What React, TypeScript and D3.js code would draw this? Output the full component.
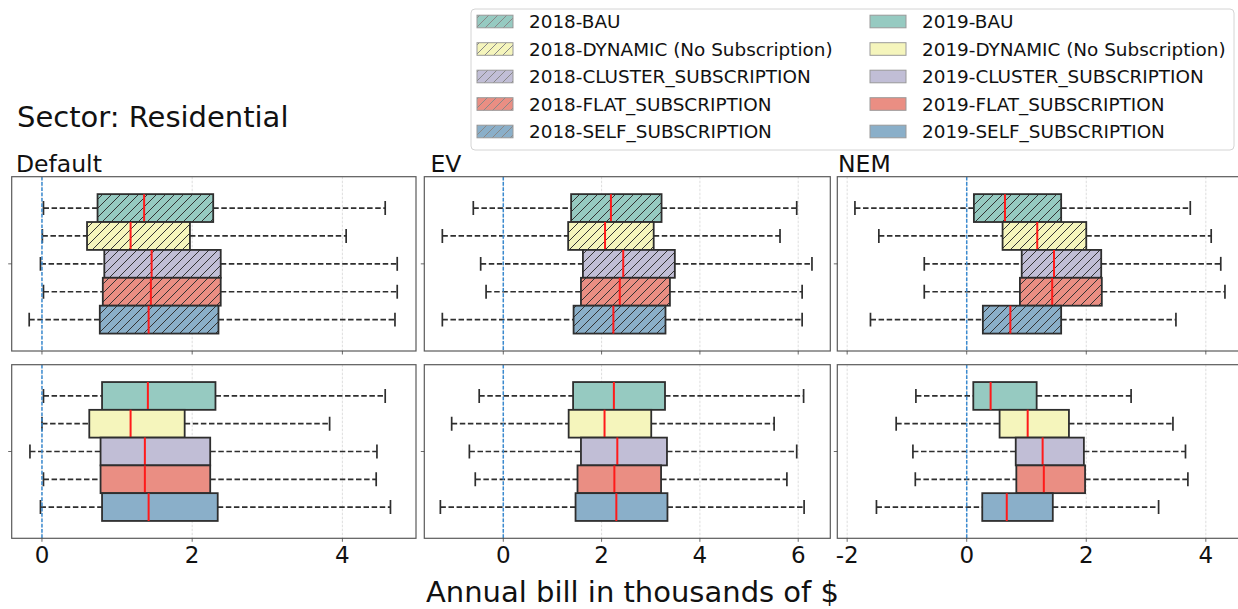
import React from "react";
import * as d3 from "d3";

// ---------- DATA ----------
const panelNames = ["Default", "EV", "NEM"];
const years = ["2018", "2019"];
const scenarios = [
  "BAU",
  "DYNAMIC (No Subscription)",
  "CLUSTER_SUBSCRIPTION",
  "FLAT_SUBSCRIPTION",
  "SELF_SUBSCRIPTION",
];
const palette = ["#96cac1", "#f5f5bc", "#c1bed6", "#ea8e83", "#8aafc9"];

// each entry: [lower whisker, q1, median, q3, upper whisker] (thousands of $)
const default2018 = [
  [0.02, 0.74, 1.36, 2.28, 4.57],
  [0.005, 0.6, 1.18, 1.97, 4.05],
  [-0.02, 0.83, 1.46, 2.38, 4.73],
  [0.02, 0.81, 1.45, 2.38, 4.73],
  [-0.17, 0.77, 1.42, 2.35, 4.7],
];
const default2019 = [
  [0.02, 0.8, 1.41, 2.31, 4.57],
  [0.0, 0.63, 1.18, 1.9, 3.83],
  [-0.16, 0.78, 1.37, 2.24, 4.46],
  [0.02, 0.78, 1.37, 2.24, 4.45],
  [-0.02, 0.8, 1.42, 2.34, 4.64],
];
const ev2018 = [
  [-0.61, 1.38, 2.19, 3.22, 5.97],
  [-1.24, 1.32, 2.07, 3.06, 5.63],
  [-0.46, 1.62, 2.44, 3.49, 6.28],
  [-0.35, 1.58, 2.37, 3.39, 6.08],
  [-1.24, 1.43, 2.24, 3.3, 6.08],
];
const ev2019 = [
  [-0.49, 1.42, 2.25, 3.29, 6.11],
  [-1.05, 1.33, 2.06, 3.01, 5.51],
  [-0.69, 1.58, 2.32, 3.33, 5.97],
  [-0.57, 1.51, 2.26, 3.21, 5.77],
  [-1.28, 1.47, 2.3, 3.34, 6.12],
];
const nem2018 = [
  [-1.87, 0.12, 0.64, 1.58, 3.74],
  [-1.47, 0.6, 1.18, 2.0, 4.09],
  [-0.71, 0.92, 1.46, 2.25, 4.25],
  [-0.71, 0.89, 1.43, 2.26, 4.32],
  [-1.61, 0.27, 0.73, 1.58, 3.5],
];
const nem2019 = [
  [-0.85, 0.11, 0.4, 1.17, 2.75],
  [-1.18, 0.55, 1.02, 1.71, 3.45],
  [-0.9, 0.82, 1.27, 1.96, 3.66],
  [-0.86, 0.83, 1.29, 1.98, 3.7],
  [-1.51, 0.26, 0.67, 1.44, 3.21],
];
const defaultTicks = [0, 2, 4];
const evTicks = [0, 2, 4, 6];
const nemTicks = [-2, 0, 2, 4];

const panelData = [
  [default2018, default2019],
  [ev2018, ev2019],
  [nem2018, nem2019],
];
const panelTicks = [defaultTicks, evTicks, nemTicks];

// ---------- LAYOUT ----------
const W = 1238;
const H = 609;
const FONT = "DejaVu Sans, sans-serif";
const xDomains = [
  [-0.403, 4.98],
  [-1.607, 6.653],
  [-2.165, 4.627],
];
const xRanges = [
  [11.7, 416],
  [424.3, 830.3],
  [837.3, 1243.3],
];
const yRanges = [
  [176.7, 351],
  [364.7, 538.3],
];
const titleX = [16, 430.5, 838];
const edge = "#2e2e2e";

function Panel({ pi, ri }: { pi: number; ri: number }) {
  const [x0, x1] = xRanges[pi];
  const [y0, y1] = yRanges[ri];
  const x = d3.scaleLinear().domain(xDomains[pi]).range([x0, x1]);
  const hgt = y1 - y0;
  const y = d3
    .scaleBand<string>()
    .domain(scenarios)
    .range([y0 + 0.1 * hgt, y1 - 0.1 * hgt])
    .padding(0);
  const bw = y.bandwidth();
  const data = panelData[pi][ri];
  const ticks = panelTicks[pi];
  const clipId = `clip-${pi}-${ri}`;
  return (
    <g>
      <defs>
        <clipPath id={clipId}>
          <rect x={x0} y={y0} width={x1 - x0} height={y1 - y0} />
        </clipPath>
      </defs>
      <rect x={x0} y={y0} width={x1 - x0} height={y1 - y0} fill="white" />
      <g clipPath={`url(#${clipId})`}>
        {ticks.map((t) => (
          <line
            key={t}
            x1={x(t)}
            x2={x(t)}
            y1={y0}
            y2={y1}
            stroke="#d6d6d6"
            strokeWidth={0.8}
            strokeDasharray="2.5,1.5"
          />
        ))}
        {data.map((d, i) => {
          const cy = (y(scenarios[i]) as number) + bw / 2;
          return (
            <g key={i}>
              <line x1={x(d[0])} x2={x(d[1])} y1={cy} y2={cy} stroke={edge} strokeWidth={1.7} strokeDasharray="5.5,2.6" />
              <line x1={x(d[3])} x2={x(d[4])} y1={cy} y2={cy} stroke={edge} strokeWidth={1.7} strokeDasharray="5.5,2.6" />
              <line x1={x(d[0])} x2={x(d[0])} y1={cy - bw / 4} y2={cy + bw / 4} stroke={edge} strokeWidth={1.7} />
              <line x1={x(d[4])} x2={x(d[4])} y1={cy - bw / 4} y2={cy + bw / 4} stroke={edge} strokeWidth={1.7} />
            </g>
          );
        })}
        <line
          x1={x(0)}
          x2={x(0)}
          y1={y0}
          y2={y1}
          stroke="#3a8ad0"
          strokeWidth={1.5}
          strokeDasharray="3.7,1.6"
        />
        {data.map((d, i) => {
          const top = y(scenarios[i]) as number;
          return (
            <g key={i}>
              <rect x={x(d[1])} y={top} width={x(d[3]) - x(d[1])} height={bw} fill={palette[i]} />
              {ri === 0 && (
                <rect x={x(d[1])} y={top} width={x(d[3]) - x(d[1])} height={bw} fill="url(#hatchBox)" />
              )}
              <rect
                x={x(d[1])}
                y={top}
                width={x(d[3]) - x(d[1])}
                height={bw}
                fill="none"
                stroke={edge}
                strokeWidth={1.8}
              />
              <line x1={x(d[2])} x2={x(d[2])} y1={top} y2={top + bw} stroke="#ff1a1a" strokeWidth={2} />
            </g>
          );
        })}
      </g>
      <rect x={x0} y={y0} width={x1 - x0} height={y1 - y0} fill="none" stroke="#5a5a5a" strokeWidth={1.2} />
      {/* y tick */}
      <line x1={x0 - 3.5} x2={x0} y1={(y0 + y1) / 2} y2={(y0 + y1) / 2} stroke="#444" strokeWidth={0.8} />
      {/* x ticks */}
      {ticks.map((t) => (
        <line key={t} x1={x(t)} x2={x(t)} y1={y1} y2={y1 + 3.5} stroke="#444" strokeWidth={0.8} />
      ))}
      {ri === 1 &&
        ticks.map((t) => (
          <text key={t} x={x(t)} y={563} textAnchor="middle" fontSize={23} fontFamily={FONT} fill="#111">
            {String(t)}
          </text>
        ))}
      {ri === 0 && (
        <text x={titleX[pi]} y={172} fontSize={23.5} fontFamily={FONT} fill="#111">
          {panelNames[pi]}
        </text>
      )}
    </g>
  );
}

function Legend() {
  const lx = 471;
  const ly = 9;
  const colPatch = [477, 870];
  const rowY0 = 21.5;
  const rowStep = 27.5;
  const pw = 36;
  const ph = 12.6;
  return (
    <g>
      <rect x={lx} y={ly} width={763} height={141} rx={4} fill="white" stroke="#d4d4d4" strokeWidth={1} />
      {years.map((yr, c) =>
        scenarios.map((s, i) => {
          const cy = rowY0 + i * rowStep;
          const px = colPatch[c];
          return (
            <g key={`${yr}-${s}`}>
              <rect x={px} y={cy - ph / 2} width={pw} height={ph} fill={palette[i]} />
              {c === 0 && <rect x={px} y={cy - ph / 2} width={pw} height={ph} fill="url(#hatchLegend)" />}
              <rect x={px} y={cy - ph / 2} width={pw} height={ph} fill="none" stroke="#999" strokeWidth={1} />
              <text x={px + 52} y={cy} dy="0.36em" fontSize={18.4} fontFamily={FONT} fill="#111">
                {`${yr}-${s}`}
              </text>
            </g>
          );
        })
      )}
    </g>
  );
}

export default function App() {
  const s = 9;
  const hatchPath = `M0,${s} L${s},0 M${-s / 2},${s / 2} L${s / 2},${-s / 2} M${s / 2},${s * 1.5} L${s * 1.5},${s / 2}`;
  return (
    <svg
      width={W}
      height={H}
      viewBox={`0 0 ${W} ${H}`}
      style={{ position: "absolute", left: 0, top: 0, display: "block", background: "white" }}
    >
      <defs>
        <pattern id="hatchBox" patternUnits="userSpaceOnUse" width={s} height={s}>
          <path d={hatchPath} stroke="#333" strokeWidth={1} />
        </pattern>
        <pattern id="hatchLegend" patternUnits="userSpaceOnUse" width={s} height={s}>
          <path d={hatchPath} stroke="#888" strokeWidth={1} />
        </pattern>
      </defs>
      <rect x={0} y={0} width={W} height={H} fill="white" />
      <text x={17} y={127} fontSize={29} fontFamily={FONT} fill="#111">
        Sector: Residential
      </text>
      {panelNames.map((_, pi) =>
        years.map((_, ri) => <Panel key={`${pi}-${ri}`} pi={pi} ri={ri} />)
      )}
      <Legend />
      <text x={632.5} y={602} textAnchor="middle" fontSize={29} fontFamily={FONT} fill="#111">
        Annual bill in thousands of $
      </text>
    </svg>
  );
}
